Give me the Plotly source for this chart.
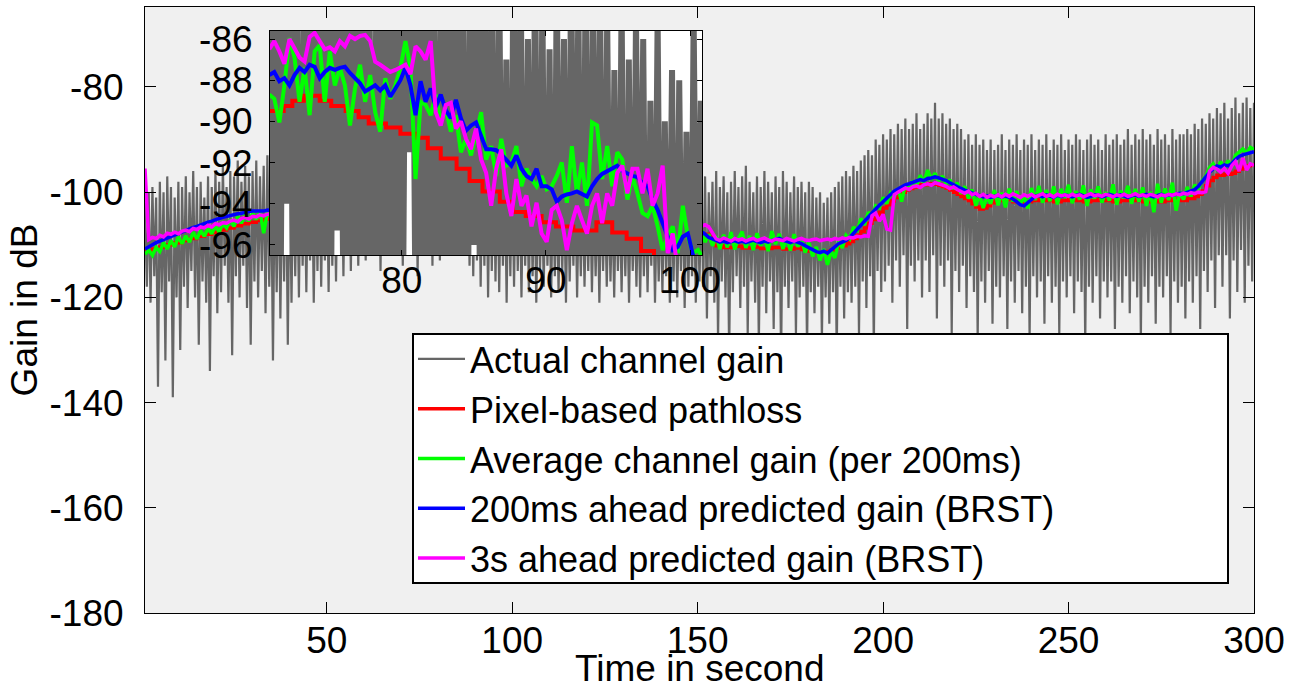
import numpy as np
import plotly.graph_objects as go

# ---------------- data ----------------
# main figure: actual channel gain sampled every 0.5 s from 1 s to 300 s (dB)
gray_main = [
    -102, -118, -100, -121, -99, -116, -101, -137, -98, -119, -100, -132, -97, -117, -99, -139, -101, -120, -98, -130,
    -99, -118, -97, -122, -100, -115, -96, -120, -99, -129, -98, -117, -101, -121, -97, -134, -99, -116, -96, -123,
    -98, -119, -95, -114, -99, -121, -96, -131, -97, -116, -94, -120, -98, -114, -95, -122, -97, -129, -96, -117,
    -94, -120, -97, -115, -95, -123, -93, -118, -96, -132, -95, -119, -94, -124, -96, -117, -93, -129, -95, -121,
    -94, -116, -95, -120, -93, -114, -96, -119, -94, -113, -93, -121, -95, -115, -92, -118, -94, -113, -93, -119,
    -92, -114, -94, -117, -91, -112, -93, -116, -90, -111, -92, -115, -90, -110, -91, -114, -89, -109, -90, -113,
    -88, -108, -89, -111, -87, -107, -88, -115, -86, -106, -87, -109, -85, -104, -86, -110, -84, -105, -85, -114,
    -83, -104, -84, -108, -82, -103, -83, -116, -82, -104, -83, -107, -82, -103, -84, -114, -83, -105, -84, -113,
    -85, -107, -86, -104, -86, -109, -88, -106, -87, -110, -89, -108, -88, -111, -90, -114, -89, -116, -91, -113,
    -90, -118, -92, -114, -91, -120, -93, -115, -92, -117, -94, -119, -93, -114, -95, -121, -94, -116, -96, -118,
    -95, -115, -97, -120, -96, -114, -97, -119, -96, -116, -98, -121, -97, -115, -98, -118, -97, -114, -99, -120,
    -98, -116, -99, -119, -98, -115, -100, -121, -99, -117, -100, -114, -98, -120, -100, -116, -99, -118, -100, -115,
    -99, -119, -101, -116, -100, -121, -99, -115, -101, -118, -100, -117, -102, -120, -100, -115, -101, -119, -100, -116,
    -101, -121, -100, -115, -102, -118, -101, -120, -100, -116, -102, -119, -101, -114, -100, -121, -102, -117, -101, -119,
    -100, -116, -102, -121, -101, -117, -99, -120, -101, -115, -100, -122, -99, -118, -101, -116, -98, -121, -100, -117,
    -99, -118, -97, -124, -100, -116, -98, -121, -96, -128, -99, -117, -97, -120, -100, -131, -98, -119, -96, -116,
    -99, -122, -97, -118, -95, -127, -98, -117, -100, -121, -97, -129, -99, -118, -96, -123, -98, -117, -100, -126,
    -97, -119, -99, -132, -96, -118, -98, -122, -100, -117, -97, -127, -99, -120, -98, -118, -100, -130, -98, -119,
    -99, -123, -101, -118, -100, -128, -102, -120, -101, -125, -100, -119, -99, -131, -98, -118, -97, -124, -96, -119,
    -97, -121, -95, -118, -96, -127, -94, -117, -93, -122, -92, -116, -93, -130, -90, -115, -91, -119, -89, -117,
    -90, -114, -88, -121, -89, -113, -87, -118, -88, -112, -86, -126, -88, -114, -87, -117, -85, -113, -88, -120,
    -87, -113, -85, -119, -86, -112, -83, -124, -86, -114, -85, -118, -87, -113, -86, -127, -88, -115, -87, -119,
    -88, -114, -90, -122, -89, -116, -91, -119, -89, -128, -91, -117, -90, -121, -92, -115, -90, -125, -92, -118,
    -91, -120, -89, -116, -92, -126, -90, -117, -91, -121, -89, -115, -92, -123, -90, -118, -91, -128, -89, -116,
    -92, -120, -90, -117, -91, -125, -89, -116, -92, -121, -90, -118, -91, -127, -89, -117, -92, -120, -90, -116,
    -91, -123, -89, -117, -90, -119, -92, -129, -90, -118, -89, -121, -91, -116, -90, -124, -92, -117, -89, -120,
    -91, -117, -90, -126, -89, -118, -91, -121, -90, -116, -88, -123, -91, -117, -89, -120, -90, -128, -88, -118,
    -90, -121, -89, -116, -91, -125, -88, -118, -90, -120, -89, -116, -91, -127, -88, -117, -90, -121, -89, -118,
    -89, -124, -88, -117, -89, -121, -87, -116, -88, -126, -86, -115, -87, -119, -85, -113, -86, -122, -84, -112,
    -85, -118, -83, -112, -86, -124, -84, -113, -82, -119, -85, -111, -83, -121, -82, -114, -84, -117, -83,
]
gray_main_t = np.arange(1.0, 300.01, 0.5)

# main figure: smoothed / predicted curves (dB) at these times (s)
main_t = list(range(1, 36)) + [40, 50, 60, 70, 80, 90, 100, 110, 120, 130, 140, 145, 150] + list(range(151, 301))

red_main = [
    -111.2, -111.2, -110.8, -110.8, -110.4, -110.4, -110.0, -110.0, -109.6, -109.6,
    -109.2, -109.2, -108.8, -108.8, -108.4, -108.4, -108.0, -108.0, -107.6, -107.6,
    -107.2, -107.2, -106.8, -106.8, -106.4, -106.4, -106.0, -106.0, -105.7, -105.7,
    -105.4, -105.4, -105.1, -105.1, -104.9,
    -101.5, -96.5, -92.5, -89.5, -90.5, -94.5, -97.5, -101.5, -104.5, -106.5, -108.0, -108.5, -108.0,
    -108.0, -108.0, -108.5, -109.0, -110.2, -110.2, -110.5, -110.5, -110.5, -110.3,
    -110.3, -110.6, -110.6, -110.6, -110.4, -110.4, -110.7, -110.7, -110.7, -110.5,
    -110.5, -110.5, -110.8, -110.8, -110.8, -110.6, -110.6, -110.9, -110.9, -111.2,
    -111.2, -111.5, -111.5, -111.3, -111.3, -111.0, -110.6, -110.2, -110.2, -109.8,
    -109.4, -108.8, -108.2, -107.5, -106.8, -105.9, -105.2, -104.5, -103.8, -103.0,
    -102.4, -101.7, -101.0, -100.5, -100.0, -99.6, -99.3, -99.0, -98.8, -98.6,
    -98.6, -98.4, -98.4, -98.5, -98.7, -98.9, -99.2, -99.6, -100.0, -100.4,
    -100.8, -101.2, -101.6, -102.2, -102.8, -103.2, -103.0, -102.6, -102.0, -101.6,
    -101.6, -101.6, -101.4, -101.4, -101.8, -101.8, -102.2, -102.2, -101.8, -101.6,
    -101.6, -101.4, -101.4, -101.6, -101.6, -101.8, -101.8, -101.6, -101.6, -101.4,
    -101.4, -101.6, -101.6, -101.8, -101.8, -101.6, -101.6, -101.4, -101.4, -101.6,
    -101.6, -101.8, -101.8, -101.6, -101.6, -101.4, -101.4, -101.6, -101.6, -101.8,
    -101.8, -101.6, -101.6, -101.8, -101.8, -101.6, -101.6, -101.4, -101.4, -101.6,
    -101.6, -101.2, -101.2, -100.8, -100.4, -99.8, -98.8, -97.8, -97.2, -96.8,
    -96.8, -96.6, -96.6, -96.4, -96.0, -95.6, -95.2, -95.0, -94.8, -94.6,
]
green_main = [
    -111.8, -111.0, -112.0, -110.5, -111.3, -109.6, -110.8, -109.2, -110.4, -108.5,
    -109.8, -108.3, -109.5, -107.6, -108.9, -107.3, -108.4, -106.8, -107.9, -106.4,
    -107.6, -105.9, -106.8, -105.2, -106.5, -104.6, -105.9, -104.3, -105.5, -104.0,
    -105.2, -103.5, -107.8, -103.8, -104.6,
    -101.0, -95.5, -92.0, -88.5, -89.5, -93.5, -96.5, -100.5, -103.5, -105.5, -107.5, -108.0, -107.0,
    -107.0, -109.5, -108.0, -110.2, -108.4, -110.8, -108.1, -110.5, -107.6, -110.9,
    -108.8, -107.5, -110.6, -108.3, -111.0, -107.8, -110.2, -108.5, -111.2, -107.4,
    -109.9, -107.9, -110.8, -108.6, -111.1, -108.0, -110.4, -108.9, -111.5, -109.6,
    -112.2, -110.4, -113.0, -110.8, -113.8, -111.2, -112.5, -109.4, -110.6, -108.2,
    -108.9, -106.6, -107.5, -105.0, -106.2, -103.8, -104.6, -102.6, -103.0, -101.0,
    -102.2, -100.2, -101.0, -99.3, -101.8, -98.5, -99.6, -97.8, -98.9, -96.8,
    -98.2, -95.8, -97.6, -96.4, -98.0, -96.9, -98.5, -97.6, -99.4, -98.2,
    -100.3, -98.9, -101.2, -99.5, -102.6, -100.4, -103.0, -100.8, -102.2, -99.6,
    -102.5, -100.1, -102.9, -99.3, -101.8, -99.8, -102.4, -100.6, -103.1, -99.2,
    -101.5, -98.8, -102.0, -99.6, -101.7, -98.9, -102.3, -99.4, -101.0, -98.6,
    -102.1, -99.8, -101.4, -98.7, -102.6, -99.5, -101.2, -98.9, -102.0, -100.0,
    -101.6, -98.5, -102.4, -99.7, -101.1, -98.8, -102.2, -99.4, -101.8, -99.1,
    -102.6, -99.9, -103.8, -98.4, -102.0, -99.3, -101.5, -98.2, -103.5, -100.0,
    -101.4, -99.0, -100.8, -98.6, -99.4, -97.8, -97.0, -95.3, -94.6, -95.8,
    -94.2, -95.4, -94.0, -95.2, -93.0, -92.4, -91.8, -92.6, -91.5, -91.9,
]
blue_main = [
    -110.8, -110.3, -110.0, -109.6, -109.3, -109.0, -108.7, -108.4, -108.1, -107.8,
    -107.5, -107.3, -107.0, -106.7, -106.5, -106.2, -105.9, -105.7, -105.5, -105.2,
    -105.0, -104.8, -104.6, -104.4, -104.3, -104.1, -104.0, -103.8, -103.7, -103.6,
    -103.6, -103.5, -103.6, -103.4, -103.5,
    -100.0, -95.0, -91.0, -88.0, -88.5, -93.0, -96.0, -100.0, -103.0, -105.0, -107.0, -107.5, -107.5,
    -107.5, -108.0, -108.6, -108.9, -109.2, -109.5, -109.3, -109.6, -109.4, -109.2,
    -109.5, -109.3, -109.6, -109.4, -109.1, -109.4, -109.6, -109.3, -109.5, -109.2,
    -109.0, -108.8, -109.1, -109.4, -109.6, -109.3, -109.5, -109.8, -110.2, -110.6,
    -111.0, -111.3, -111.5, -111.2, -111.6, -111.0, -110.3, -109.8, -109.5, -109.2,
    -108.6, -107.8, -107.0, -106.2, -105.5, -104.6, -104.0, -103.2, -102.5, -101.8,
    -101.3, -100.6, -99.8, -99.4, -99.0, -98.6, -98.4, -98.1, -97.9, -97.6,
    -97.8, -97.4, -97.3, -97.1, -97.3, -97.5, -97.8, -98.2, -98.6, -98.9,
    -99.3, -99.6, -99.9, -100.2, -100.4, -100.6, -100.9, -100.7, -101.0, -100.8,
    -100.6, -100.9, -100.7, -101.0, -101.3, -101.8, -102.4, -102.6, -102.0, -101.3,
    -100.8, -100.6, -100.9, -100.5, -100.7, -101.0, -100.6, -100.8, -100.5, -100.7,
    -100.9, -100.6, -100.4, -100.7, -101.0, -100.8, -100.5, -100.6, -100.9, -100.7,
    -100.4, -100.6, -100.8, -100.5, -100.7, -101.0, -100.7, -100.5, -100.8, -100.6,
    -100.4, -100.7, -100.9, -100.6, -100.4, -100.7, -100.5, -100.6, -100.4, -100.2,
    -100.3, -100.0, -99.8, -99.5, -98.9, -98.0, -97.0, -96.2, -95.6, -95.0,
    -95.2, -94.8, -95.0, -94.6, -93.8, -93.2, -92.9, -92.7, -92.5, -92.3,
]
magenta_main = [
    -95.5, -109.0, -108.6, -108.8, -108.2, -108.5, -107.8, -108.0, -107.6, -107.9,
    -107.4, -107.2, -107.5, -106.9, -107.1, -106.6, -106.8, -106.3, -106.6, -106.0,
    -106.2, -105.8, -105.9, -105.5, -105.3, -105.6, -105.0, -104.8, -105.1, -104.6,
    -104.7, -104.3, -104.5, -104.2, -104.1,
    -99.5, -94.5, -90.5, -87.5, -88.0, -92.5, -95.5, -99.5, -102.5, -104.5, -106.5, -107.0, -107.0,
    -106.5, -106.2, -106.6, -107.8, -108.9, -109.2, -108.7, -109.0, -109.3, -108.8,
    -109.1, -108.9, -109.3, -109.0, -108.8, -109.2, -109.0, -108.7, -109.1, -109.3,
    -108.9, -109.0, -109.2, -108.8, -109.1, -109.3, -109.0, -108.8, -109.1, -109.2,
    -109.0, -108.9, -109.2, -109.0, -108.9, -109.1, -108.8, -109.0, -108.7, -108.9,
    -108.6, -108.7, -108.4, -108.5, -108.3, -108.4, -104.5, -104.0, -105.5, -104.2,
    -107.0, -107.2, -100.5, -100.0, -99.6, -99.2, -99.5, -99.0, -98.8, -99.1,
    -98.6, -98.4, -98.7, -98.2, -98.4, -98.6, -98.9, -99.3, -99.0, -99.5,
    -99.8, -100.2, -99.8, -100.5, -100.2, -100.8, -100.4, -101.0, -100.6, -100.9,
    -100.5, -100.9, -100.4, -100.8, -100.3, -100.7, -101.0, -100.5, -100.8, -100.4,
    -100.9, -100.6, -100.3, -100.8, -100.5, -100.9, -100.4, -100.7, -100.5, -100.8,
    -100.4, -100.7, -100.5, -100.9, -100.6, -100.3, -100.7, -100.5, -100.8, -100.4,
    -100.6, -100.9, -100.5, -100.7, -100.4, -100.8, -100.6, -100.3, -100.7, -100.5,
    -100.8, -100.4, -100.6, -100.9, -100.5, -100.7, -100.4, -100.6, -100.3, -100.5,
    -100.2, -100.4, -100.1, -100.3, -100.0, -100.1, -99.9, -96.0, -95.3, -95.6,
    -96.2, -95.5, -96.4, -95.0, -94.2, -96.0, -93.5, -95.8, -94.6, -94.9,
]

# inset: zoom 71..101 s
ins_gray_t = np.arange(70.75, 101.26, 0.25)
ins_gray = [
    -82, -104, -80, -108, -81, -94, -79, -106, -83, -110,
    -80, -103, -82, -107, -79, -105, -81, -109, -80, -95.3,
    -82, -104, -79, -108, -81, -102, -80, -106, -83, -110,
    -81, -104, -80, -107, -82, -103, -80, -108, -81, -91.5,
    -80, -105, -82, -109, -80, -104, -83, -107, -81, -103,
    -82, -108, -80, -105, -83, -110, -81, -96, -82, -106,
    -81, -104, -83, -108, -82, -105, -87, -109, -81, -104,
    -83, -107, -86, -105, -82, -110, -84, -106, -86.5, -108,
    -83, -104, -86, -107, -82, -105, -84, -109, -83, -106,
    -84, -104, -83, -108, -85, -105, -87.5, -107, -84, -110,
    -87, -106, -85, -104, -86, -108, -89, -105, -85, -107,
    -90, -104, -87.5, -108, -88, -105, -90.5, -107, -85, -104,
    -89, -106, -88,
]
ins_red_t = [70.8, 71.8, 72.4, 73.2, 74.3, 75.1, 76.1, 77.0, 77.7, 78.9, 79.9, 81.0, 81.8, 82.7, 83.8,
             84.7, 85.6, 86.8, 87.7, 88.6, 89.7, 90.7, 91.9, 93.5, 94.6, 95.6, 96.6, 97.5, 101.2]
ins_red = [-89.5, -89.25, -89.0, -88.75, -89.0, -89.25, -89.5, -89.8, -90.1, -90.3, -90.6, -90.8, -91.3, -91.8, -92.3,
           -92.9, -93.4, -93.9, -94.4, -94.6, -94.9, -95.1, -95.3, -94.9, -95.4, -95.7, -96.3, -96.9, -96.9]
ins_t = 70.8 + 0.35 * np.arange(88)
ins_green = [
    -88.7, -88.9, -90.05, -88.25, -85.95, -86.9, -89.05, -87.4, -89.7, -86.6,
    -86.3, -89.05, -86.6, -88.25, -87.4, -88.25, -90.2, -88.4, -87.25, -89.05,
    -87.75, -89.55, -90.5, -87.9, -88.9, -88.25, -87.4, -86.1, -87.4, -92.8,
    -89.05, -89.2, -89.7, -88.7, -90.05, -89.4, -90.5, -89.7, -91.5, -90.85,
    -91.65, -90.5, -89.55, -91.85, -91.2, -92.65, -90.85, -92.15, -92.0, -91.2,
    -93.15, -92.3, -92.8, -93.15, -92.65, -93.3, -93.15, -92.65, -92.0, -93.95,
    -91.2, -93.5, -92.0, -94.1, -90.05, -90.2, -92.8, -91.2, -93.15, -91.5,
    -91.85, -93.8, -92.65, -93.5, -94.45, -94.6, -94.1, -95.1, -96.25, -95.6,
    -95.1, -96.4, -94.1, -95.6, -96.4, -96.25, -96.6, -97.0,
]
ins_blue = [
    -87.75, -87.6, -88.05, -87.9, -88.25, -87.75, -87.4, -87.6, -87.25, -87.35,
    -87.9, -87.6, -87.4, -87.5, -87.4, -87.35, -87.65, -87.9, -88.15, -88.55,
    -88.4, -88.25, -88.5, -88.25, -88.8, -88.4, -88.0, -87.4, -88.25, -89.7,
    -88.05, -89.05, -88.4, -89.3, -88.7, -89.45, -89.85, -88.95, -89.85, -90.45,
    -90.2, -90.05, -90.75, -91.35, -91.35, -91.4, -91.6, -91.9, -92.15, -91.65,
    -92.3, -92.65, -92.8, -92.3, -93.15, -93.15, -93.3, -93.9, -93.65, -93.55,
    -93.5, -93.4, -93.5, -93.65, -93.15, -92.8, -92.55, -92.4, -92.25, -92.15,
    -92.4, -92.55, -92.65, -92.7, -93.0, -93.15, -93.8, -94.3, -94.95, -95.6,
    -96.25, -96.1, -95.6, -95.45, -96.6, -97.5, -98.0, -98.2,
]
ins_magenta = [
    -86.5, -86.1, -86.6, -87.2, -86.0, -86.5, -86.9, -87.1, -85.9, -85.7,
    -86.1, -86.5, -86.4, -86.6, -86.1, -86.35, -85.85, -86.0, -85.85, -85.8,
    -86.1, -87.1, -87.25, -87.4, -87.6, -87.5, -87.4, -87.25, -87.7, -86.35,
    -86.6, -87.0, -86.1, -89.55, -90.2, -89.2, -89.1, -90.35, -90.0, -90.85,
    -91.35, -90.35, -91.85, -92.5, -94.1, -92.3, -91.35, -93.5, -94.6, -92.8,
    -94.1, -93.6, -95.1, -93.95, -95.45, -95.85, -94.3, -94.1, -94.8, -96.25,
    -94.95, -94.1, -94.8, -95.45, -94.1, -93.5, -94.95, -93.5, -94.1, -92.5,
    -92.15, -93.5, -92.3, -92.3, -93.5, -92.3, -94.1, -93.5, -92.15, -96.4,
    -95.45, -97.2, -97.8, -98.0, -98.2, -98.0, -98.3, -98.5,
]

names = ["Actual channel gain", "Pixel-based pathloss", "Average channel gain (per 200ms)",
         "200ms ahead predicted gain (BRST)", "3s ahead predicted gain (BRST)"]
colors = ["rgb(102,102,102)", "#ff0000", "#00ff00", "#0000ff", "#ff00ff"]

x_ticks = [50, 100, 150, 200, 250, 300]
x_ticktext = ["50", "100", "150", "200", "250", "300"]
y_ticks = [-180, -160, -140, -120, -100, -80]
y_ticktext = ["-180", "-160", "-140", "-120", "-100", "-80"]
ins_x_ticks = [80, 90, 100]
ins_x_ticktext = ["80", "90", "100"]
ins_y_ticks = [-96, -94, -92, -90, -88, -86]
ins_y_ticktext = ["-96", "-94", "-92", "-90", "-88", "-86"]

assert len(gray_main) == len(gray_main_t)
for arr in (red_main, green_main, blue_main, magenta_main):
    assert len(arr) == len(main_t), len(arr)
assert len(ins_gray) == len(ins_gray_t)
for arr in (ins_green, ins_blue, ins_magenta):
    assert len(arr) == len(ins_t), len(arr)
assert len(ins_red) == len(ins_red_t)

# ---------------- figure ----------------
FONT = "Liberation Sans, Arial, Helvetica, sans-serif"
FS = 37
W, H = 1289, 691
ML, MR, MT, MB = 145, 35, 7, 78
PW, PH = W - ML - MR, H - MT - MB

fig = go.Figure()
main_series = [(gray_main_t, gray_main), (main_t, red_main), (main_t, green_main), (main_t, blue_main), (main_t, magenta_main)]
widths = [2.2, 3.5, 3.5, 3.5, 3.5]
for i, (xs, ys) in enumerate(main_series):
    fig.add_trace(go.Scatter(
        x=xs, y=ys, mode="lines", name=names[i],
        line=dict(color=colors[i], width=widths[i], shape="hv" if i == 1 else "linear"),
        legendgroup=str(i), xaxis="x", yaxis="y"))

ins_series = [(ins_gray_t, ins_gray), (ins_red_t, ins_red), (ins_t, ins_green), (ins_t, ins_blue), (ins_t, ins_magenta)]
ins_widths = [6, 4, 4, 4, 4]
for i, (xs, ys) in enumerate(ins_series):
    fig.add_trace(go.Scatter(
        x=xs, y=ys, mode="lines", name=names[i], showlegend=False,
        line=dict(color=colors[i], width=ins_widths[i], shape="hv" if i == 1 else "linear"),
        xaxis="x2", yaxis="y2"))

ax_common = dict(showgrid=False, zeroline=False, showline=True, linecolor="black", linewidth=1,
                 mirror="ticks", ticks="inside", tickcolor="black", automargin=False,
                 tickfont=dict(family=FONT, size=FS, color="black"))

ix0, ix1 = (270 - ML) / PW, (702 - ML) / PW
iy0, iy1 = (H - MB - 255) / PH, (H - MB - 31) / PH

# legend frame (paper coordinates of the plot area)
lx0, lx1 = (413 - ML) / PW, (1228 - ML) / PW
ly0, ly1 = (H - MB - 583) / PH, (H - MB - 334) / PH

fig.update_layout(
    template="none",
    width=W, height=H,
    margin=dict(l=ML, r=MR, t=MT, b=MB, pad=0),
    paper_bgcolor="white", plot_bgcolor="white",
    font=dict(family=FONT, size=FS, color="black"),
    xaxis=dict(domain=[0, 1], range=[1, 300], tickvals=x_ticks, ticktext=x_ticktext, ticklen=11,
               ticklabelstandoff=-5, **ax_common),
    yaxis=dict(domain=[0, 1], range=[-180, -64.8], tickvals=y_ticks, ticktext=y_ticktext, ticklen=11,
               ticklabelstandoff=13,
               title=dict(text="Gain in dB", font=dict(family=FONT, size=FS), standoff=0), **ax_common),
    xaxis2=dict(domain=[ix0, ix1], anchor="y2", range=[70.85, 100.83], tickvals=ins_x_ticks,
                ticktext=ins_x_ticktext, ticklen=5, ticklabelstandoff=-7, **ax_common),
    yaxis2=dict(domain=[iy0, iy1], anchor="x2", range=[-96.49, -85.61], tickvals=ins_y_ticks,
                ticktext=ins_y_ticktext, ticklen=5, ticklabelstandoff=9, **ax_common),
    annotations=[dict(text="Time in second", xref="paper", yref="paper", x=0.5,
                      y=(H - MB - 690) / PH, xanchor="center", yanchor="bottom", showarrow=False,
                      borderpad=0, font=dict(family=FONT, size=FS, color="black"))],
    shapes=[
        dict(type="rect", xref="x", yref="y", x0=1, x1=300, y0=-180, y1=-64.8,
             fillcolor="#f0f0f0", line=dict(width=0), layer="below"),
        dict(type="rect", xref="paper", yref="paper", x0=lx0, x1=lx1, y0=ly0, y1=ly1,
             fillcolor="white", line=dict(color="black", width=2), layer="above"),
    ],
    legend=dict(x=lx0, y=(H - MB - 329) / PH, xanchor="left", yanchor="top",
                bgcolor="rgba(0,0,0,0)", borderwidth=0, itemwidth=47,
                font=dict(family=FONT, size=36, color="black"), tracegroupgap=0),
    showlegend=True,
)

fig.write_html("out.html")
